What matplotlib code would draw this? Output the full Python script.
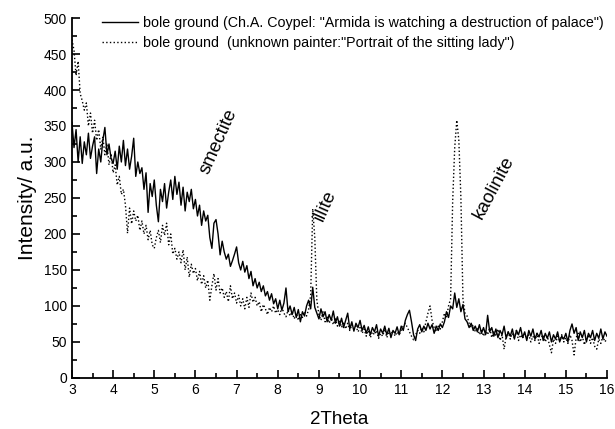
import numpy as np
import matplotlib
matplotlib.use('Agg')
import matplotlib.pyplot as plt
from matplotlib.ticker import MultipleLocator

plt.rcParams['font.family'] = ['Liberation Sans', 'DejaVu Sans']

# 2Theta scan grid, 0.05 deg steps
two_theta = np.round(np.arange(3.0, 16.0001, 0.05), 2)

# Ch.A. Coypel sample (solid line)
coypel = [
    355, 320, 345, 300, 335, 298, 328, 310, 340, 305, 322, 335, 284, 318, 300, 330, 348, 310, 325, 305,
    298, 315, 290, 322, 300, 330, 295, 318, 290, 308, 333, 280, 300, 284, 292, 262, 285, 230, 270, 252,
    275, 240, 217, 262, 245, 270, 236, 258, 275, 248, 280, 255, 272, 240, 265, 232, 258, 245, 262, 235,
    248, 225, 240, 212, 232, 218, 226, 195, 180, 215, 220, 200, 171, 190, 175, 165, 172, 155, 163, 172,
    182, 160, 150, 162, 147, 156, 138, 148, 128, 138, 125, 133, 120, 128, 114, 120, 108, 117, 103, 110,
    96, 108, 94, 104, 125, 92, 100, 88, 98, 84, 95, 78, 92, 86, 100, 108, 96, 126, 98, 90,
    82, 96, 85, 92, 78, 88, 80, 93, 76, 85, 72, 83, 70, 80, 90, 68, 78, 65, 76, 70,
    80, 66, 73, 62, 71, 60, 70, 64, 74, 58, 68, 62, 72, 60, 69, 56, 66, 62, 71, 60,
    72, 66, 80, 88, 94, 78, 60, 52, 68, 74, 64, 72, 66, 76, 68, 74, 62, 72, 66, 75,
    70, 78, 92, 84, 100, 96, 118, 98, 110, 92, 102, 82, 78, 70, 76, 66, 72, 64, 74, 62,
    70, 60, 87, 64, 70, 58, 68, 56, 66, 60, 72, 55, 64, 58, 68, 54, 66, 60, 70, 56,
    64, 52, 66, 58, 68, 54, 62, 57, 66, 52, 62, 55, 64, 50, 60, 54, 64, 50, 58, 54,
    62, 50, 66, 75, 62, 70, 52, 64, 56, 66, 50, 62, 56, 66, 52, 62, 55, 68, 54, 64,
    58,
]

# unknown painter sample (dotted line)
unknown = [
    470, 455, 420, 440, 395, 385, 372, 382, 350, 368, 340, 358, 330, 345, 318, 335, 310, 326, 296, 312,
    285, 296, 268, 280, 255, 262, 240, 201, 236, 214, 232, 218, 226, 205, 218, 200, 212, 192, 205, 185,
    180, 195, 205, 188, 212, 198, 215, 185, 200, 172, 180, 165, 175, 160, 178, 150, 168, 140, 158, 145,
    152, 135, 148, 130, 142, 125, 136, 108, 128, 145, 122, 138, 118, 125, 112, 120, 106, 128, 110, 118,
    104, 115, 100, 110, 96, 112, 98, 118, 105, 112, 100, 106, 92, 102, 96, 88, 98, 92, 100, 90,
    95, 88, 98, 90, 85, 94, 86, 92, 82, 90, 80, 88, 84, 92, 86, 95, 115, 235, 195, 108,
    88, 80, 92, 78, 86, 76, 84, 74, 82, 72, 80, 70, 78, 68, 76, 66, 74, 68, 72, 64,
    70, 62, 68, 58, 66, 56, 64, 60, 66, 55, 62, 58, 68, 56, 64, 60, 66, 58, 64, 60,
    66, 72, 76, 70, 64, 58, 53, 60, 66, 62, 70, 64, 78, 90, 100, 80, 70, 64, 72, 68,
    78, 90, 84, 100, 110, 245, 320, 358, 330, 250, 110, 90, 86, 76, 70, 74, 64, 70, 60, 66,
    58, 66, 60, 70, 56, 64, 58, 68, 52, 60, 40, 58, 64, 54, 62, 56, 66, 52, 60, 55,
    62, 54, 60, 50, 58, 52, 62, 48, 56, 60, 50, 58, 46, 35, 54, 48, 58, 52, 60, 50,
    56, 48, 60, 52, 32, 56, 62, 50, 58, 46, 55, 60, 48, 56, 44, 40, 54, 48, 58, 50,
    55,
]

labels = ['bole ground (Ch.A. Coypel: "Armida is watching a destruction of palace")',
          'bole ground  (unknown painter:"Portrait of the sitting lady")']

fig = plt.figure(figsize=(6.15, 4.29), dpi=100)
ax = fig.add_axes([0.117, 0.119, 0.870, 0.839])

ax.plot(two_theta, coypel, '-', color='black', lw=1.0, label=labels[0])
ax.plot(two_theta, unknown, ':', color='black', lw=1.0, label=labels[1])

ax.set_xlim(3, 16)
ax.set_ylim(0, 500)
ax.xaxis.set_major_locator(MultipleLocator(1))
ax.xaxis.set_minor_locator(MultipleLocator(0.5))
ax.yaxis.set_major_locator(MultipleLocator(50))
ax.yaxis.set_minor_locator(MultipleLocator(25))
ax.tick_params(which='both', direction='in', width=1.2, labelsize=10)
ax.tick_params(which='major', length=6)
ax.tick_params(which='minor', length=3.5)
for s in ['top', 'right']:
    ax.spines[s].set_visible(False)
for s in ['left', 'bottom']:
    ax.spines[s].set_linewidth(1.3)

ax.set_xlabel('2Theta', fontsize=13.5, labelpad=10)
ax.set_ylabel('Intensity/ a.u.', fontsize=15, labelpad=5)

# mineral annotations
ax.text(6.55, 329, 'smectite', rotation=66, fontsize=13.5, ha='center', va='center')
ax.text(9.15, 239, 'illite', rotation=66, fontsize=13.5, ha='center', va='center')
ax.text(13.25, 265, 'kaolinite', rotation=62, fontsize=13.5, ha='center', va='center')

ax.legend(loc='upper left', bbox_to_anchor=(102 / 615, 1 - 16 / 429),
          bbox_transform=fig.transFigure, frameon=False, fontsize=10.3,
          handlelength=2.5, handletextpad=0.35, labelspacing=0.4, borderpad=0,
          borderaxespad=0)

fig.savefig('out.png', dpi=100)
